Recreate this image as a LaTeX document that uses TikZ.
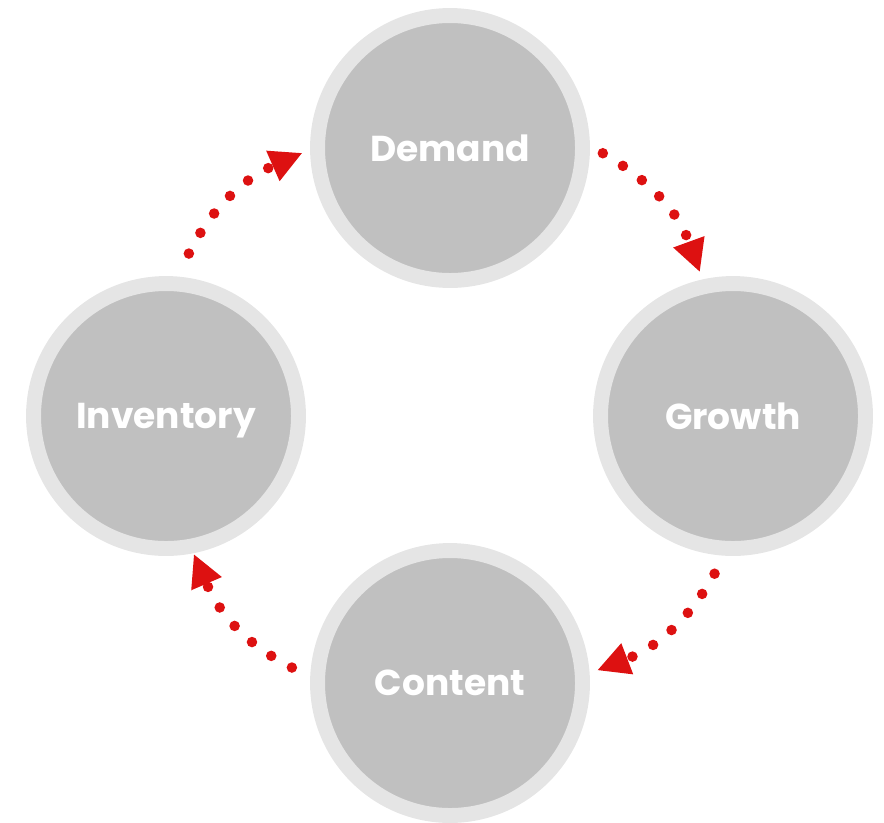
\documentclass[tikz,border=0pt]{standalone}
\usepackage{fontspec}
\setmainfont{Poppins}
\usetikzlibrary{arrows.meta}
\definecolor{ringgray}{HTML}{E5E5E5}
\definecolor{coregray}{HTML}{C0C0C0}
\definecolor{flowred}{HTML}{DD1111}
\begin{document}
\begin{tikzpicture}[x=0.02cm, y=-0.02cm]
    \useasboundingbox (0,0) rectangle (884,822);
    \begin{scope}[every node/.style={circle, fill=coregray, draw=ringgray, line width=8.5pt, minimum size=5.3cm, inner sep=0pt, outer sep=9pt, text=white, text depth=0pt, font=\bfseries\fontsize{20.5}{24}\selectfont}]
        \node (demand) at (450,148) {Demand};
        \node (growth) at (733,416) {Growth};
        \node (content) at (450,683) {Content};
        \node (inventory) at (166,416) {Inventory};
    \end{scope}

    \begin{scope}[every edge/.style={draw, flowred, line width=6pt, line cap=round, dash pattern=on 0pt off 13.5pt, -{Triangle[length=18pt, width=19pt, line width=0pt]}}]
        \path (demand.-1) edge[bend left=20, shorten <=3pt] (growth.103);
        \path (growth.265) edge[bend left=20, shorten <=6.5pt] (content.5);
        \path (content.176) edge[bend left=20, shorten <=6.5pt, shorten >=-4pt] (inventory.-78);
        \path (inventory.84) edge[bend left=20, shorten <=9.5pt] (demand.182);
    \end{scope}
\end{tikzpicture}
\end{document}
